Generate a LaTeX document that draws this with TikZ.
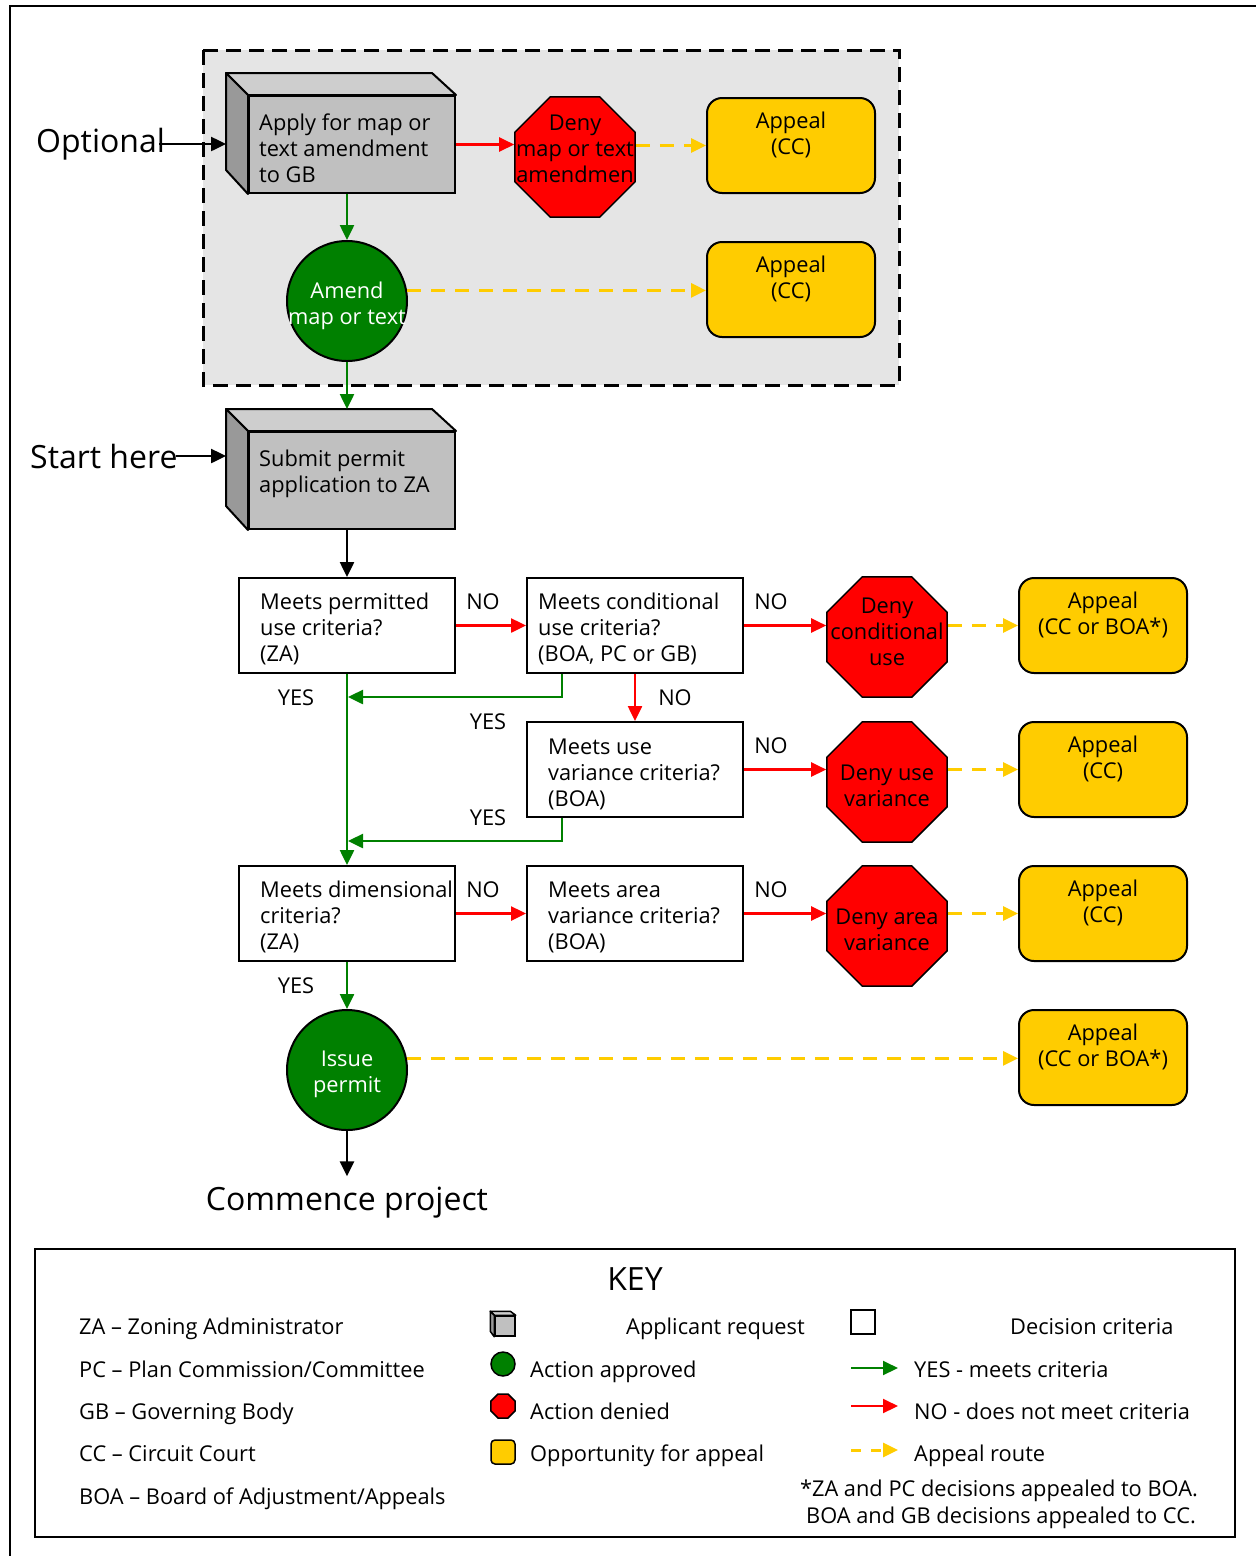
\documentclass[tikz,border=0pt]{standalone}
\usepackage{fontspec}
\setmainfont{Open Sans}
\usetikzlibrary{arrows.meta,shapes.geometric,calc}
\definecolor{ggreen}{RGB}{0,128,0}
\definecolor{rred}{RGB}{255,0,0}
\definecolor{yyel}{RGB}{255,204,0}
\definecolor{frontf}{RGB}{192,192,192}
\definecolor{topf}{RGB}{206,206,206}
\definecolor{sidef}{RGB}{153,153,153}
\definecolor{dashbg}{RGB}{229,229,229}
\begin{document}
\begin{tikzpicture}[x=1pt,y=-1pt,
  font=\fontsize{21.8}{26}\selectfont,
  crit/.style={draw, line width=2pt, fill=white, minimum width=216pt, minimum height=95pt, inner sep=0pt},
  appeal/.style={draw, line width=2pt, fill=yyel, rounded corners=15pt, minimum width=168pt, minimum height=95pt, inner sep=0pt},
  deny/.style={draw, line width=1.5pt, fill=rred, regular polygon, regular polygon sides=8, minimum size=130pt, inner sep=0pt},
  okc/.style={draw, line width=2pt, fill=ggreen, circle, minimum size=120pt, inner sep=0pt},
  face/.style={draw, line width=2pt, fill=frontf, minimum width=206pt, minimum height=97pt, inner sep=0pt},
  txt/.style={align=left, anchor=west, inner sep=0pt},
  ktxt/.style={anchor=base west, inner sep=0pt},
  ctxt/.style={align=center, inner sep=0pt},
  big/.style={font=\fontsize{32}{38}\selectfont, inner sep=0pt},
  tipd/.style={-{Triangle[length=15pt,width=14pt]}},
  yesar/.style={draw=ggreen, line width=2.5pt, tipd},
  noar/.style={draw=rred, line width=2.5pt, tipd},
  apar/.style={draw=yyel, line width=3pt, dash pattern=on 14pt off 10pt, tipd},
  blkar/.style={draw=black, line width=2.5pt, tipd},
  sideface/.style={draw, line width=2pt, fill=sidef, line join=round},
  topface/.style={draw, line width=2pt, fill=topf, line join=round}
]
\useasboundingbox (0,0) rectangle (1256,1556);
% outer frame
\draw[line width=2pt] (10,1560) -- (10,6) -- (1260,6);
% optional dashed region
\draw[line width=3pt, fill=dashbg, dash pattern=on 15pt off 8pt] (203,50) rectangle (899,385);

% ---- Apply box (3D)
\node[face] (apply) at (352,144.5) {};
\coordinate (applyback) at ($(apply.north west)+(-22,-22)$);
\filldraw[topface] (apply.north west) -- (applyback) -- ++(206,0) -- (apply.north east) -- cycle;
\filldraw[sideface] (apply.north west) -- (applyback) -- ++(0,97) -- (apply.south west) -- cycle;
\node[txt] (applyt) at (259,148) {Apply for map or\\text amendment\\to GB};

\node[deny] (deny1) at (575,157) {};
\node[ctxt] (deny1t) at (575,149) {Deny\\map or text\\amendmen};
\node[appeal] (ap1) at (791,145.5) {};
\node[ctxt] (ap1t) at (791,135) {Appeal\\(CC)};

\node[okc] (amend) at (347,301) {};
\node[ctxt, text=white] (amendt) at (347,306) {Amend\\map or text};
\node[appeal] (ap2) at (791,289.5) {};
\node[ctxt] (ap2t) at (791,279) {Appeal\\(CC)};

\node[big, anchor=west] (opt) at (36,144) {Optional};

% ---- Submit box (3D)
\node[face] (submit) at (352,480.5) {};
\coordinate (subback) at ($(submit.north west)+(-22,-22)$);
\filldraw[topface] (submit.north west) -- (subback) -- ++(206,0) -- (submit.north east) -- cycle;
\filldraw[sideface] (submit.north west) -- (subback) -- ++(0,97) -- (submit.south west) -- cycle;
\node[txt] (submitt) at (259,474) {Submit permit\\application to ZA};
\node[big, anchor=west] (start) at (30,456) {Start here};

% ---- criteria boxes
\node[crit] (b1) at (347,625.5) {};
\node[txt] (b1t) at (260,629) {Meets permitted\\use criteria?\\(ZA)};
\node[crit] (b2) at (635,625.5) {};
\node[txt] (b2t) at (538,629) {Meets conditional\\use criteria?\\(BOA, PC or GB)};
\node[crit] (b3) at (635,769.5) {};
\node[txt] (b3t) at (548,774) {Meets use\\variance criteria?\\(BOA)};
\node[crit] (b4) at (347,913.5) {};
\node[txt] (b4t) at (260,917) {Meets dimensional\\criteria?\\(ZA)};
\node[crit] (b5) at (635,913.5) {};
\node[txt] (b5t) at (548,917) {Meets area\\variance criteria?\\(BOA)};

% ---- deny octagons
\node[deny] (deny2) at (887,637) {};
\node[ctxt] (deny2t) at (887,631.5) {Deny\\conditional\\use};
\node[deny] (deny3) at (887,782) {};
\node[ctxt] (deny3t) at (887,785.5) {Deny use\\variance};
\node[deny] (deny4) at (887,926) {};
\node[ctxt] (deny4t) at (887,930) {Deny area\\variance};

% ---- appeal boxes
\node[appeal] (ap3) at (1103,625.5) {};
\node[ctxt] (ap3t) at (1103,615) {Appeal\\(CC or BOA*)};
\node[appeal] (ap4) at (1103,769.5) {};
\node[ctxt] (ap4t) at (1103,759) {Appeal\\(CC)};
\node[appeal] (ap5) at (1103,913.5) {};
\node[ctxt] (ap5t) at (1103,903) {Appeal\\(CC)};
\node[appeal] (ap6) at (1103,1057.5) {};
\node[ctxt] (ap6t) at (1103,1047) {Appeal\\(CC or BOA*)};

% ---- issue permit
\node[okc] (issue) at (347,1070) {};
\node[ctxt, text=white] (issuet) at (347,1074) {Issue\\permit};
\node[big, anchor=base] (commence) at (347,1210) {Commence project};

% ---- connectors top
\draw[blkar] ([xshift=-6pt]opt.east) -- (opt.east -| applyback);
\draw[noar] (apply.east) -- (apply.east -| deny1.west);
\draw[apar] (ap1.west -| deny1.east) -- (ap1.west);
\draw[yesar] (amend |- apply.south) -- (amend.north);
\draw[apar] (amend.10) -- (amend.10 -| ap2.west);
\draw[yesar] (amend.south) -- (amend |- subback);
\draw[blkar] ([xshift=-2pt]start.east) -- (start.east -| subback);
\draw[blkar] (b1 |- submit.south) -- (b1.north);

% ---- NO arrows
\draw[noar] (b1.east) -- (b2.west);
\draw[noar] (b2.east) -- (b2.east -| deny2.west);
\draw[noar] (b2.south) -- (b3.north);
\draw[noar] (b3.east) -- (b3.east -| deny3.west);
\draw[noar] (b4.east) -- (b5.west);
\draw[noar] (b5.east) -- (b5.east -| deny4.west);
\node (no1) at (483,602) {NO};
\node (no2) at (771,602) {NO};
\node (no3) at (675,698) {NO};
\node (no4) at (771,746) {NO};
\node (no5) at (483,890) {NO};
\node (no6) at (771,890) {NO};

% ---- appeal routes
\draw[apar] (ap3.west -| deny2.east) -- (ap3.west);
\draw[apar] (ap4.west -| deny3.east) -- (ap4.west);
\draw[apar] (ap5.west -| deny4.east) -- (ap5.west);
\draw[apar] (issue.11) -- (issue.11 -| ap6.west);

% ---- YES arrows
\coordinate (b2y) at ($(b2.south west)+(36,0)$);
\coordinate (b3y) at ($(b3.south west)+(36,0)$);
\coordinate (j1) at (348,697);
\coordinate (j2) at (348,841);
\draw[yesar] (b1.south) -- (b4.north);
\draw[yesar] (b2y) |- (j1);
\draw[yesar] (b3y) |- (j2);
\draw[yesar] (b4.south) -- (issue.north);
\node (yes1) at (296,698) {YES};
\node (yes2) at (488,722) {YES};
\node (yes3) at (488,818) {YES};
\node (yes4) at (296,986) {YES};
\draw[blkar] (issue.south) -- ([yshift=10pt]commence.north);

% ---- KEY
\node[draw, line width=2.5pt, minimum width=1200pt, minimum height=288pt, inner sep=0pt] (key) at (635,1393) {};
\node[big] (keyt) at (635,1279) {KEY};
\node[ktxt] (k1) at (79,1334) {ZA – Zoning Administrator};
\node[ktxt] (k2) at (79,1377) {PC – Plan Commission/Committee};
\node[ktxt] (k3) at (79,1419) {GB – Governing Body};
\node[ktxt] (k4) at (79,1461) {CC – Circuit Court};
\node[ktxt] (k5) at (79,1504) {BOA – Board of Adjustment/Appeals};

\node[draw, line width=1.5pt, fill=frontf, minimum size=20pt, inner sep=0pt] (kcube) at (505,1326) {};
\coordinate (kcb) at ($(kcube.north west)+(-4,-4)$);
\filldraw[topf, draw=black, line width=1.5pt, line join=round] (kcube.north west) -- (kcb) -- ++(20,0) -- (kcube.north east) -- cycle;
\filldraw[sidef, draw=black, line width=1.5pt, line join=round] (kcube.north west) -- (kcb) -- ++(0,20) -- (kcube.south west) -- cycle;
\node[ktxt] (kt1) at (626,1334) {Applicant request};
\node[draw, line width=1.5pt, fill=ggreen, circle, minimum size=24pt, inner sep=0pt] (kok) at (503,1364) {};
\node[ktxt] (kt2) at (530,1377) {Action approved};
\node[draw, line width=1.5pt, fill=rred, regular polygon, regular polygon sides=8, minimum size=26pt, inner sep=0pt] (kno) at (503,1406) {};
\node[ktxt] (kt3) at (530,1419) {Action denied};
\node[draw, line width=1.5pt, fill=yyel, rounded corners=4pt, minimum size=24pt, inner sep=0pt] (kap) at (503,1452) {};
\node[ktxt] (kt4) at (530,1461) {Opportunity for appeal};

\node[draw, line width=2pt, fill=white, minimum size=24pt, inner sep=0pt] (kdc) at (863,1322) {};
\node[ktxt] (kt5) at (1010,1334) {Decision criteria};
\coordinate (kg1) at (851,1368); \coordinate (kg2) at (898,1368);
\coordinate (kr1) at (851,1406); \coordinate (kr2) at (898,1406);
\coordinate (ky1) at (851,1450); \coordinate (ky2) at (898,1450);
\draw[yesar, line width=2pt] (kg1) -- (kg2);
\draw[noar, line width=2pt] (kr1) -- (kr2);
\draw[apar, dash pattern=on 10pt off 10pt] (ky1) -- (ky2);
\node[ktxt] (kt6) at (914,1377) {YES - meets criteria};
\node[ktxt] (kt7) at (914,1419) {NO - does not meet criteria};
\node[ktxt] (kt8) at (914,1461) {Appeal route};
\node[anchor=base east, inner sep=0pt] (kf1) at (1198,1496) {*ZA and PC decisions appealed to BOA.};
\node[anchor=base east, inner sep=0pt] (kf2) at (1196,1523) {BOA and GB decisions appealed to CC.};
\end{tikzpicture}
\end{document}
